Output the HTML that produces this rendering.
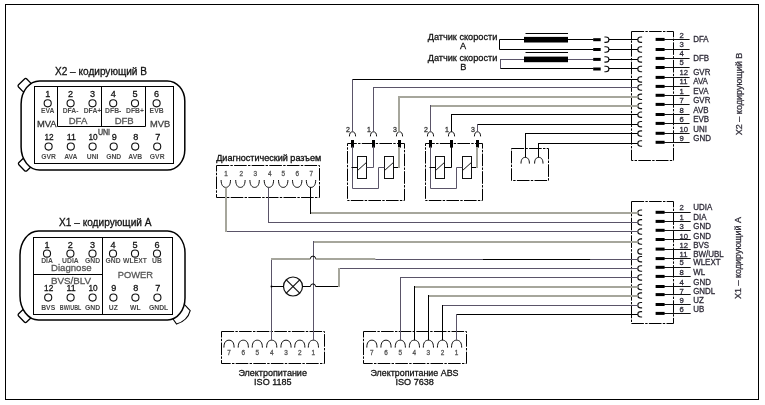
<!DOCTYPE html>
<html lang="ru">
<head>
<meta charset="utf-8">
<title>Схема подключения ABS</title>
<style>
html,body{margin:0;padding:0;background:#fff;}
body{width:765px;height:405px;overflow:hidden;}
svg{display:block;font-family:"Liberation Sans",sans-serif;will-change:transform;}
</style>
</head>
<body>
<svg width="765" height="405" viewBox="0 0 765 405">
<rect x="0" y="0" width="765" height="405" fill="#fff"/>
<rect x="5.5" y="4.5" width="753.0" height="395.0" fill="none" stroke="#000" stroke-width="1" />
<rect x="-5.75" y="-4.5" width="11.5" height="9" rx="1.6" fill="#fff" stroke="#000" stroke-width="1.3" transform="translate(24.65,85.05) rotate(-44)"/>
<rect x="-5.75" y="-4.5" width="11.5" height="9" rx="1.6" fill="#fff" stroke="#000" stroke-width="1.3" transform="translate(25.0,164.6) rotate(46)"/>
<path d="M39.6,80.9 H167.3 A17.5,20 0 0 1 184.8,100.9 V150.1 A17.5,20 0 0 1 167.3,170.1 H39.6 A18.5,23 0 0 1 21.1,147.1 V103.9 A18.5,23 0 0 1 39.6,80.9 Z" fill="#fff" stroke="#000" stroke-width="1.5" />
<rect x="34.5" y="86.5" width="139.0" height="77.0" fill="none" stroke="#000" stroke-width="1" />
<polyline points="57.5,86.5 57.5,126.5 145.5,126.5 145.5,86.5" fill="none" stroke="#000" stroke-width="1" />
<line x1="101.5" y1="86.6" x2="101.5" y2="126.4" stroke="#000" stroke-width="1" />
<text x="101" y="75.3" font-size="10" text-anchor="middle" textLength="92" lengthAdjust="spacingAndGlyphs" fill="#111" stroke="#111" stroke-width="0.28" >X2 – кодирующий B</text>
<text x="47.7" y="97.3" font-size="9.1" text-anchor="middle" fill="#111" stroke="#111" stroke-width="0.28" >1</text>
<circle cx="47.7" cy="103.3" r="3.55" fill="none" stroke="#111" stroke-width="1.1"/>
<text x="47.7" y="112.6" font-size="6.8" text-anchor="middle" font-weight="bold" fill="#4a4a4a" stroke="#4a4a4a" stroke-width="0" >EVA</text>
<text x="70.6" y="97.3" font-size="9.1" text-anchor="middle" fill="#111" stroke="#111" stroke-width="0.28" >2</text>
<circle cx="70.6" cy="103.3" r="3.55" fill="none" stroke="#111" stroke-width="1.1"/>
<text x="70.6" y="112.6" font-size="6.8" text-anchor="middle" font-weight="bold" fill="#4a4a4a" stroke="#4a4a4a" stroke-width="0" >DFA-</text>
<text x="92.5" y="97.3" font-size="9.1" text-anchor="middle" fill="#111" stroke="#111" stroke-width="0.28" >3</text>
<circle cx="92.5" cy="103.3" r="3.55" fill="none" stroke="#111" stroke-width="1.1"/>
<text x="92.5" y="112.6" font-size="6.8" text-anchor="middle" font-weight="bold" fill="#4a4a4a" stroke="#4a4a4a" stroke-width="0" >DFA+</text>
<text x="113.2" y="97.3" font-size="9.1" text-anchor="middle" fill="#111" stroke="#111" stroke-width="0.28" >4</text>
<circle cx="113.2" cy="103.3" r="3.55" fill="none" stroke="#111" stroke-width="1.1"/>
<text x="113.2" y="112.6" font-size="6.8" text-anchor="middle" font-weight="bold" fill="#4a4a4a" stroke="#4a4a4a" stroke-width="0" >DFB-</text>
<text x="135" y="97.3" font-size="9.1" text-anchor="middle" fill="#111" stroke="#111" stroke-width="0.28" >5</text>
<circle cx="135" cy="103.3" r="3.55" fill="none" stroke="#111" stroke-width="1.1"/>
<text x="135" y="112.6" font-size="6.8" text-anchor="middle" font-weight="bold" fill="#4a4a4a" stroke="#4a4a4a" stroke-width="0" >DFB+</text>
<text x="156.6" y="97.3" font-size="9.1" text-anchor="middle" fill="#111" stroke="#111" stroke-width="0.28" >6</text>
<circle cx="156.6" cy="103.3" r="3.55" fill="none" stroke="#111" stroke-width="1.1"/>
<text x="156.6" y="112.6" font-size="6.8" text-anchor="middle" font-weight="bold" fill="#4a4a4a" stroke="#4a4a4a" stroke-width="0" >EVB</text>
<text x="46.8" y="127.1" font-size="9.4" text-anchor="middle" textLength="19.6" lengthAdjust="spacingAndGlyphs" fill="#333" stroke="#333" stroke-width="0.28" >MVA</text>
<text x="78" y="124.1" font-size="9.6" text-anchor="middle" textLength="18.6" lengthAdjust="spacingAndGlyphs" fill="#555" stroke="#555" stroke-width="0.28" >DFA</text>
<text x="124.2" y="124.1" font-size="9.6" text-anchor="middle" textLength="19.1" lengthAdjust="spacingAndGlyphs" fill="#555" stroke="#555" stroke-width="0.28" >DFB</text>
<text x="160.2" y="127.1" font-size="9.4" text-anchor="middle" textLength="20.2" lengthAdjust="spacingAndGlyphs" fill="#444" stroke="#444" stroke-width="0.28" >MVB</text>
<text x="104" y="134.8" font-size="8.6" text-anchor="middle" textLength="12.2" lengthAdjust="spacingAndGlyphs" fill="#444" stroke="#444" stroke-width="0.28" style="stroke-width:0.4">UNI</text>
<text x="49.1" y="140.4" font-size="9.1" text-anchor="middle" textLength="9.2" lengthAdjust="spacingAndGlyphs" fill="#111" stroke="#111" stroke-width="0.28" >12</text>
<circle cx="48.6" cy="146.6" r="3.55" fill="none" stroke="#111" stroke-width="1.1"/>
<text x="48.6" y="158.7" font-size="6.8" text-anchor="middle" font-weight="bold" fill="#4a4a4a" stroke="#4a4a4a" stroke-width="0" >GVR</text>
<text x="71.3" y="140.4" font-size="9.1" text-anchor="middle" textLength="9.2" lengthAdjust="spacingAndGlyphs" fill="#111" stroke="#111" stroke-width="0.28" >11</text>
<circle cx="70.8" cy="146.6" r="3.55" fill="none" stroke="#111" stroke-width="1.1"/>
<text x="70.8" y="158.7" font-size="6.8" text-anchor="middle" font-weight="bold" fill="#4a4a4a" stroke="#4a4a4a" stroke-width="0" >AVA</text>
<text x="93.1" y="140.4" font-size="9.1" text-anchor="middle" textLength="9.2" lengthAdjust="spacingAndGlyphs" fill="#111" stroke="#111" stroke-width="0.28" >10</text>
<circle cx="92.6" cy="146.6" r="3.55" fill="none" stroke="#111" stroke-width="1.1"/>
<text x="92.6" y="158.7" font-size="6.8" text-anchor="middle" font-weight="bold" fill="#4a4a4a" stroke="#4a4a4a" stroke-width="0" >UNI</text>
<text x="114.2" y="140.4" font-size="9.1" text-anchor="middle" fill="#111" stroke="#111" stroke-width="0.28" >9</text>
<circle cx="113.7" cy="146.6" r="3.55" fill="none" stroke="#111" stroke-width="1.1"/>
<text x="113.7" y="158.7" font-size="6.8" text-anchor="middle" font-weight="bold" fill="#4a4a4a" stroke="#4a4a4a" stroke-width="0" >GND</text>
<text x="135.7" y="140.4" font-size="9.1" text-anchor="middle" fill="#111" stroke="#111" stroke-width="0.28" >8</text>
<circle cx="135.2" cy="146.6" r="3.55" fill="none" stroke="#111" stroke-width="1.1"/>
<text x="135.2" y="158.7" font-size="6.8" text-anchor="middle" font-weight="bold" fill="#4a4a4a" stroke="#4a4a4a" stroke-width="0" >AVB</text>
<text x="157.7" y="140.4" font-size="9.1" text-anchor="middle" fill="#111" stroke="#111" stroke-width="0.28" >7</text>
<circle cx="157.2" cy="146.6" r="3.55" fill="none" stroke="#111" stroke-width="1.1"/>
<text x="157.2" y="158.7" font-size="6.8" text-anchor="middle" font-weight="bold" fill="#4a4a4a" stroke="#4a4a4a" stroke-width="0" >GVR</text>
<rect x="-5.75" y="-4.5" width="11.5" height="9" rx="1.6" fill="#fff" stroke="#000" stroke-width="1.3" transform="translate(24.7,315.9) rotate(46)"/>
<path d="M184.3,304.3 L190.2,310.6 Q187.5,320.8 176.6,324 L172.8,318.8" fill="#fff" stroke="#000" stroke-width="1.1" />
<path d="M38.5,230.9 H167.5 A17.5,22 0 0 1 185.0,252.9 V298.0 A17.5,22 0 0 1 167.5,320.0 H38.5 A18.5,24 0 0 1 20.0,296.0 V254.9 A18.5,24 0 0 1 38.5,230.9 Z" fill="#fff" stroke="#000" stroke-width="1.5" />
<rect x="33.5" y="237.5" width="139.0" height="77.0" fill="none" stroke="#000" stroke-width="1" />
<line x1="102.5" y1="237.7" x2="102.5" y2="314.4" stroke="#000" stroke-width="1" />
<line x1="33.6" y1="274.5" x2="102.5" y2="274.5" stroke="#000" stroke-width="1" />
<text x="105.3" y="225.9" font-size="10" text-anchor="middle" textLength="92.5" lengthAdjust="spacingAndGlyphs" fill="#111" stroke="#111" stroke-width="0.28" >X1 – кодирующий A</text>
<text x="47" y="248.0" font-size="9.1" text-anchor="middle" fill="#111" stroke="#111" stroke-width="0.28" >1</text>
<circle cx="47" cy="253.6" r="3.55" fill="none" stroke="#111" stroke-width="1.1"/>
<text x="47" y="263.1" font-size="6.8" text-anchor="middle" font-weight="bold" fill="#4a4a4a" stroke="#4a4a4a" stroke-width="0" >DIA</text>
<text x="70.4" y="248.0" font-size="9.1" text-anchor="middle" fill="#111" stroke="#111" stroke-width="0.28" >2</text>
<circle cx="70.4" cy="253.6" r="3.55" fill="none" stroke="#111" stroke-width="1.1"/>
<text x="70.4" y="263.1" font-size="6.8" text-anchor="middle" font-weight="bold" fill="#4a4a4a" stroke="#4a4a4a" stroke-width="0" >UDIA</text>
<text x="92.5" y="248.0" font-size="9.1" text-anchor="middle" fill="#111" stroke="#111" stroke-width="0.28" >3</text>
<circle cx="92.5" cy="253.6" r="3.55" fill="none" stroke="#111" stroke-width="1.1"/>
<text x="92.5" y="263.1" font-size="6.8" text-anchor="middle" font-weight="bold" fill="#4a4a4a" stroke="#4a4a4a" stroke-width="0" >GND</text>
<text x="113" y="248.0" font-size="9.1" text-anchor="middle" fill="#111" stroke="#111" stroke-width="0.28" >4</text>
<circle cx="113" cy="253.6" r="3.55" fill="none" stroke="#111" stroke-width="1.1"/>
<text x="113" y="263.1" font-size="6.8" text-anchor="middle" font-weight="bold" fill="#4a4a4a" stroke="#4a4a4a" stroke-width="0" >GND</text>
<text x="135" y="248.0" font-size="9.1" text-anchor="middle" fill="#111" stroke="#111" stroke-width="0.28" >5</text>
<circle cx="135" cy="253.6" r="3.55" fill="none" stroke="#111" stroke-width="1.1"/>
<text x="135" y="263.1" font-size="6.8" text-anchor="middle" font-weight="bold" fill="#4a4a4a" stroke="#4a4a4a" stroke-width="0" >WLEXT</text>
<text x="157" y="248.0" font-size="9.1" text-anchor="middle" fill="#111" stroke="#111" stroke-width="0.28" >6</text>
<circle cx="157" cy="253.6" r="3.55" fill="none" stroke="#111" stroke-width="1.1"/>
<text x="157" y="263.1" font-size="6.8" text-anchor="middle" font-weight="bold" fill="#4a4a4a" stroke="#4a4a4a" stroke-width="0" >UB</text>
<text x="71.3" y="271.1" font-size="9.6" text-anchor="middle" textLength="40.6" lengthAdjust="spacingAndGlyphs" fill="#555" stroke="#555" stroke-width="0.28" >Diagnose</text>
<text x="71" y="283.5" font-size="9.7" text-anchor="middle" textLength="40.1" lengthAdjust="spacingAndGlyphs" fill="#555" stroke="#555" stroke-width="0.28" >BVS/BLV</text>
<text x="135.4" y="278.1" font-size="9.4" text-anchor="middle" textLength="35.2" lengthAdjust="spacingAndGlyphs" fill="#555" stroke="#555" stroke-width="0.28" >POWER</text>
<text x="48.7" y="291.4" font-size="9.1" text-anchor="middle" textLength="9.2" lengthAdjust="spacingAndGlyphs" fill="#111" stroke="#111" stroke-width="0.28" >12</text>
<circle cx="48.2" cy="297.6" r="3.55" fill="none" stroke="#111" stroke-width="1.1"/>
<text x="48.2" y="309.7" font-size="6.8" text-anchor="middle" font-weight="bold" fill="#444" stroke="#444" stroke-width="0" >BVS</text>
<text x="71.1" y="291.4" font-size="9.1" text-anchor="middle" textLength="9.2" lengthAdjust="spacingAndGlyphs" fill="#111" stroke="#111" stroke-width="0.28" >11</text>
<circle cx="70.6" cy="297.6" r="3.55" fill="none" stroke="#111" stroke-width="1.1"/>
<text x="70.6" y="309.7" font-size="6.8" text-anchor="middle" textLength="21.5" lengthAdjust="spacingAndGlyphs" font-weight="bold" fill="#444" stroke="#444" stroke-width="0" >BW/UBL</text>
<text x="93.1" y="291.4" font-size="9.1" text-anchor="middle" textLength="9.2" lengthAdjust="spacingAndGlyphs" fill="#111" stroke="#111" stroke-width="0.28" >10</text>
<circle cx="92.6" cy="297.6" r="3.55" fill="none" stroke="#111" stroke-width="1.1"/>
<text x="92.6" y="309.7" font-size="6.8" text-anchor="middle" font-weight="bold" fill="#444" stroke="#444" stroke-width="0" >GND</text>
<text x="113.9" y="291.4" font-size="9.1" text-anchor="middle" fill="#111" stroke="#111" stroke-width="0.28" >9</text>
<circle cx="113.4" cy="297.6" r="3.55" fill="none" stroke="#111" stroke-width="1.1"/>
<text x="113.4" y="309.7" font-size="6.8" text-anchor="middle" font-weight="bold" fill="#444" stroke="#444" stroke-width="0" >UZ</text>
<text x="135.9" y="291.4" font-size="9.1" text-anchor="middle" fill="#111" stroke="#111" stroke-width="0.28" >8</text>
<circle cx="135.4" cy="297.6" r="3.55" fill="none" stroke="#111" stroke-width="1.1"/>
<text x="135.4" y="309.7" font-size="6.8" text-anchor="middle" font-weight="bold" fill="#444" stroke="#444" stroke-width="0" >WL</text>
<text x="157.9" y="291.4" font-size="9.1" text-anchor="middle" fill="#111" stroke="#111" stroke-width="0.28" >7</text>
<circle cx="157.4" cy="297.6" r="3.55" fill="none" stroke="#111" stroke-width="1.1"/>
<text x="158.6" y="309.7" font-size="6.8" text-anchor="middle" font-weight="bold" fill="#444" stroke="#444" stroke-width="0" >GNDL</text>
<rect x="631.5" y="31.5" width="42.0" height="129.0" fill="none" stroke="#000" stroke-width="1" stroke-dasharray="12.6 1.3 2.4 1.3"/>
<path d="M642.0999999999999,37.0 H640.8 A3.0,2.7 0 0 0 640.8,42.400000000000006 H642.0999999999999" fill="none" stroke="#111" stroke-width="1.1" />
<rect x="655.6" y="37.9" width="9" height="3" fill="#000" stroke="none" stroke-width="0" />
<line x1="664" y1="39.5" x2="689.6" y2="39.5" stroke="#111" stroke-width="1" />
<text x="679.6" y="37.7" font-size="7.7" fill="#2e2b38" stroke="#2e2b38" stroke-width="0.28" >2</text>
<text x="693.2" y="41.8" font-size="8.3" textLength="15.5" lengthAdjust="spacingAndGlyphs" fill="#2e2b38" stroke="#2e2b38" stroke-width="0.28" >DFA</text>
<path d="M642.0999999999999,46.8 H640.8 A3.0,2.7 0 0 0 640.8,52.2 H642.0999999999999" fill="none" stroke="#111" stroke-width="1.1" />
<rect x="655.6" y="48.0" width="9" height="3" fill="#000" stroke="none" stroke-width="0" />
<line x1="664" y1="49.5" x2="689.6" y2="49.5" stroke="#111" stroke-width="1" />
<text x="679.6" y="46.6" font-size="7.7" fill="#2e2b38" stroke="#2e2b38" stroke-width="0.28" >3</text>
<path d="M642.0999999999999,56.699999999999996 H640.8 A3.0,2.7 0 0 0 640.8,62.1 H642.0999999999999" fill="none" stroke="#111" stroke-width="1.1" />
<rect x="655.6" y="56.9" width="9" height="3" fill="#000" stroke="none" stroke-width="0" />
<line x1="664" y1="58.5" x2="689.6" y2="58.5" stroke="#111" stroke-width="1" />
<text x="679.6" y="55.8" font-size="7.7" fill="#2e2b38" stroke="#2e2b38" stroke-width="0.28" >4</text>
<text x="693.2" y="61.2" font-size="8.3" textLength="15.9" lengthAdjust="spacingAndGlyphs" fill="#2e2b38" stroke="#2e2b38" stroke-width="0.28" >DFB</text>
<path d="M642.0999999999999,66.3 H640.8 A3.0,2.7 0 0 0 640.8,71.7 H642.0999999999999" fill="none" stroke="#111" stroke-width="1.1" />
<rect x="655.6" y="66.0" width="9" height="3" fill="#000" stroke="none" stroke-width="0" />
<line x1="664" y1="67.5" x2="689.6" y2="67.5" stroke="#111" stroke-width="1" />
<text x="679.6" y="65.2" font-size="7.7" fill="#2e2b38" stroke="#2e2b38" stroke-width="0.28" >5</text>
<path d="M642.0999999999999,76.7 H640.8 A3.0,2.7 0 0 0 640.8,82.10000000000001 H642.0999999999999" fill="none" stroke="#111" stroke-width="1.1" />
<rect x="655.6" y="75.9" width="9" height="3" fill="#000" stroke="none" stroke-width="0" />
<line x1="664" y1="77.5" x2="689.6" y2="77.5" stroke="#111" stroke-width="1" />
<text x="679.6" y="74.7" font-size="7.7" fill="#2e2b38" stroke="#2e2b38" stroke-width="0.28" >12</text>
<text x="693.2" y="74.7" font-size="8.3" textLength="17.2" lengthAdjust="spacingAndGlyphs" fill="#2e2b38" stroke="#2e2b38" stroke-width="0.28" >GVR</text>
<path d="M642.0999999999999,84.8 H640.8 A3.0,2.7 0 0 0 640.8,90.2 H642.0999999999999" fill="none" stroke="#111" stroke-width="1.1" />
<rect x="655.6" y="84.9" width="9" height="3" fill="#000" stroke="none" stroke-width="0" />
<line x1="664" y1="86.5" x2="689.6" y2="86.5" stroke="#111" stroke-width="1" />
<text x="679.6" y="84.4" font-size="7.7" fill="#2e2b38" stroke="#2e2b38" stroke-width="0.28" >11</text>
<text x="693.2" y="84.4" font-size="8.3" textLength="14.7" lengthAdjust="spacingAndGlyphs" fill="#2e2b38" stroke="#2e2b38" stroke-width="0.28" >AVA</text>
<path d="M642.0999999999999,94.1 H640.8 A3.0,2.7 0 0 0 640.8,99.5 H642.0999999999999" fill="none" stroke="#111" stroke-width="1.1" />
<rect x="655.6" y="93.8" width="9" height="3" fill="#000" stroke="none" stroke-width="0" />
<line x1="664" y1="95.5" x2="689.6" y2="95.5" stroke="#111" stroke-width="1" />
<text x="679.6" y="93.6" font-size="7.7" fill="#2e2b38" stroke="#2e2b38" stroke-width="0.28" >1</text>
<text x="693.2" y="93.6" font-size="8.3" textLength="15.3" lengthAdjust="spacingAndGlyphs" fill="#2e2b38" stroke="#2e2b38" stroke-width="0.28" >EVA</text>
<path d="M642.0999999999999,103.2 H640.8 A3.0,2.7 0 0 0 640.8,108.60000000000001 H642.0999999999999" fill="none" stroke="#111" stroke-width="1.1" />
<rect x="655.6" y="102.9" width="9" height="3" fill="#000" stroke="none" stroke-width="0" />
<line x1="664" y1="104.5" x2="689.6" y2="104.5" stroke="#111" stroke-width="1" />
<text x="679.6" y="103.0" font-size="7.7" fill="#2e2b38" stroke="#2e2b38" stroke-width="0.28" >7</text>
<text x="693.2" y="103.0" font-size="8.3" textLength="17.2" lengthAdjust="spacingAndGlyphs" fill="#2e2b38" stroke="#2e2b38" stroke-width="0.28" >GVR</text>
<path d="M642.0999999999999,112.0 H640.8 A3.0,2.7 0 0 0 640.8,117.4 H642.0999999999999" fill="none" stroke="#111" stroke-width="1.1" />
<rect x="655.6" y="113.0" width="9" height="3" fill="#000" stroke="none" stroke-width="0" />
<line x1="664" y1="114.5" x2="689.6" y2="114.5" stroke="#111" stroke-width="1" />
<text x="679.6" y="112.5" font-size="7.7" fill="#2e2b38" stroke="#2e2b38" stroke-width="0.28" >8</text>
<text x="693.2" y="112.5" font-size="8.3" textLength="15.3" lengthAdjust="spacingAndGlyphs" fill="#2e2b38" stroke="#2e2b38" stroke-width="0.28" >AVB</text>
<path d="M642.0999999999999,121.5 H640.8 A3.0,2.7 0 0 0 640.8,126.9 H642.0999999999999" fill="none" stroke="#111" stroke-width="1.1" />
<rect x="655.6" y="121.9" width="9" height="3" fill="#000" stroke="none" stroke-width="0" />
<line x1="664" y1="123.5" x2="689.6" y2="123.5" stroke="#111" stroke-width="1" />
<text x="679.6" y="122.4" font-size="7.7" fill="#2e2b38" stroke="#2e2b38" stroke-width="0.28" >6</text>
<text x="693.2" y="122.4" font-size="8.3" textLength="15.9" lengthAdjust="spacingAndGlyphs" fill="#2e2b38" stroke="#2e2b38" stroke-width="0.28" >EVB</text>
<path d="M642.0999999999999,130.9 H640.8 A3.0,2.7 0 0 0 640.8,136.29999999999998 H642.0999999999999" fill="none" stroke="#111" stroke-width="1.1" />
<rect x="655.6" y="131.8" width="9" height="3" fill="#000" stroke="none" stroke-width="0" />
<line x1="664" y1="133.5" x2="689.6" y2="133.5" stroke="#111" stroke-width="1" />
<text x="679.6" y="131.6" font-size="7.7" fill="#2e2b38" stroke="#2e2b38" stroke-width="0.28" >10</text>
<text x="693.2" y="131.6" font-size="8.3" textLength="13.7" lengthAdjust="spacingAndGlyphs" fill="#2e2b38" stroke="#2e2b38" stroke-width="0.28" >UNI</text>
<path d="M642.0999999999999,140.8 H640.8 A3.0,2.7 0 0 0 640.8,146.2 H642.0999999999999" fill="none" stroke="#111" stroke-width="1.1" />
<rect x="655.6" y="140.8" width="9" height="3" fill="#000" stroke="none" stroke-width="0" />
<line x1="664" y1="142.5" x2="689.6" y2="142.5" stroke="#111" stroke-width="1" />
<text x="679.6" y="140.5" font-size="7.7" fill="#2e2b38" stroke="#2e2b38" stroke-width="0.28" >9</text>
<text x="693.2" y="140.5" font-size="8.3" textLength="17.7" lengthAdjust="spacingAndGlyphs" fill="#2e2b38" stroke="#2e2b38" stroke-width="0.28" >GND</text>
<rect x="631.5" y="201.5" width="42.0" height="122.0" fill="none" stroke="#000" stroke-width="1" stroke-dasharray="12.6 1.3 2.4 1.3"/>
<path d="M642.0999999999999,210.0 H640.8 A3.0,2.7 0 0 0 640.8,215.39999999999998 H642.0999999999999" fill="none" stroke="#111" stroke-width="1.1" />
<rect x="655.6" y="210.8" width="9" height="3" fill="#000" stroke="none" stroke-width="0" />
<line x1="664" y1="212.5" x2="690.7" y2="212.5" stroke="#111" stroke-width="1" />
<text x="679.6" y="210.4" font-size="7.7" fill="#2e2b38" stroke="#2e2b38" stroke-width="0.28" >2</text>
<text x="693.2" y="210.4" font-size="8.3" textLength="19.0" lengthAdjust="spacingAndGlyphs" fill="#2e2b38" stroke="#2e2b38" stroke-width="0.28" >UDIA</text>
<path d="M642.0999999999999,219.60000000000002 H640.8 A3.0,2.7 0 0 0 640.8,225.0 H642.0999999999999" fill="none" stroke="#111" stroke-width="1.1" />
<rect x="655.6" y="219.9" width="9" height="3" fill="#000" stroke="none" stroke-width="0" />
<line x1="664" y1="221.5" x2="690.7" y2="221.5" stroke="#111" stroke-width="1" />
<text x="679.6" y="219.9" font-size="7.7" fill="#2e2b38" stroke="#2e2b38" stroke-width="0.28" >1</text>
<text x="693.2" y="219.9" font-size="8.3" textLength="13.3" lengthAdjust="spacingAndGlyphs" fill="#2e2b38" stroke="#2e2b38" stroke-width="0.28" >DIA</text>
<path d="M642.0999999999999,228.9 H640.8 A3.0,2.7 0 0 0 640.8,234.29999999999998 H642.0999999999999" fill="none" stroke="#111" stroke-width="1.1" />
<rect x="655.6" y="228.8" width="9" height="3" fill="#000" stroke="none" stroke-width="0" />
<line x1="664" y1="230.5" x2="690.7" y2="230.5" stroke="#111" stroke-width="1" />
<text x="679.6" y="228.8" font-size="7.7" fill="#2e2b38" stroke="#2e2b38" stroke-width="0.28" >3</text>
<text x="693.2" y="228.8" font-size="8.3" textLength="17.7" lengthAdjust="spacingAndGlyphs" fill="#2e2b38" stroke="#2e2b38" stroke-width="0.28" >GND</text>
<path d="M642.0999999999999,238.9 H640.8 A3.0,2.7 0 0 0 640.8,244.29999999999998 H642.0999999999999" fill="none" stroke="#111" stroke-width="1.1" />
<rect x="655.6" y="238.0" width="9" height="3" fill="#000" stroke="none" stroke-width="0" />
<line x1="664" y1="239.5" x2="690.7" y2="239.5" stroke="#111" stroke-width="1" />
<text x="679.6" y="238.5" font-size="7.7" fill="#2e2b38" stroke="#2e2b38" stroke-width="0.28" >10</text>
<text x="693.2" y="238.5" font-size="8.3" textLength="17.7" lengthAdjust="spacingAndGlyphs" fill="#2e2b38" stroke="#2e2b38" stroke-width="0.28" >GND</text>
<path d="M642.0999999999999,248.70000000000002 H640.8 A3.0,2.7 0 0 0 640.8,254.1 H642.0999999999999" fill="none" stroke="#111" stroke-width="1.1" />
<rect x="655.6" y="247.6" width="9" height="3" fill="#000" stroke="none" stroke-width="0" />
<line x1="664" y1="249.5" x2="690.7" y2="249.5" stroke="#111" stroke-width="1" />
<text x="679.6" y="247.7" font-size="7.7" fill="#2e2b38" stroke="#2e2b38" stroke-width="0.28" >12</text>
<text x="693.2" y="247.7" font-size="8.3" textLength="15.9" lengthAdjust="spacingAndGlyphs" fill="#2e2b38" stroke="#2e2b38" stroke-width="0.28" >BVS</text>
<path d="M642.0999999999999,256.5 H640.8 A3.0,2.7 0 0 0 640.8,261.9 H642.0999999999999" fill="none" stroke="#111" stroke-width="1.1" />
<rect x="655.6" y="257.1" width="9" height="3" fill="#000" stroke="none" stroke-width="0" />
<line x1="664" y1="258.5" x2="690.7" y2="258.5" stroke="#111" stroke-width="1" />
<text x="679.6" y="256.6" font-size="7.7" fill="#2e2b38" stroke="#2e2b38" stroke-width="0.28" >11</text>
<text x="693.2" y="256.6" font-size="8.3" textLength="30.5" lengthAdjust="spacingAndGlyphs" fill="#2e2b38" stroke="#2e2b38" stroke-width="0.28" >BW/UBL</text>
<path d="M642.0999999999999,265.8 H640.8 A3.0,2.7 0 0 0 640.8,271.2 H642.0999999999999" fill="none" stroke="#111" stroke-width="1.1" />
<rect x="655.6" y="265.8" width="9" height="3" fill="#000" stroke="none" stroke-width="0" />
<line x1="664" y1="267.5" x2="690.7" y2="267.5" stroke="#111" stroke-width="1" />
<text x="679.6" y="265.4" font-size="7.7" fill="#2e2b38" stroke="#2e2b38" stroke-width="0.28" >5</text>
<text x="693.2" y="265.4" font-size="8.3" textLength="27.4" lengthAdjust="spacingAndGlyphs" fill="#2e2b38" stroke="#2e2b38" stroke-width="0.28" >WLEXT</text>
<path d="M642.0999999999999,274.7 H640.8 A3.0,2.7 0 0 0 640.8,280.09999999999997 H642.0999999999999" fill="none" stroke="#111" stroke-width="1.1" />
<rect x="655.6" y="274.9" width="9" height="3" fill="#000" stroke="none" stroke-width="0" />
<line x1="664" y1="276.5" x2="690.7" y2="276.5" stroke="#111" stroke-width="1" />
<text x="679.6" y="274.5" font-size="7.7" fill="#2e2b38" stroke="#2e2b38" stroke-width="0.28" >8</text>
<text x="693.2" y="274.5" font-size="8.3" textLength="11.9" lengthAdjust="spacingAndGlyphs" fill="#2e2b38" stroke="#2e2b38" stroke-width="0.28" >WL</text>
<path d="M642.0999999999999,284.3 H640.8 A3.0,2.7 0 0 0 640.8,289.7 H642.0999999999999" fill="none" stroke="#111" stroke-width="1.1" />
<rect x="655.6" y="285.0" width="9" height="3" fill="#000" stroke="none" stroke-width="0" />
<line x1="664" y1="286.5" x2="690.7" y2="286.5" stroke="#111" stroke-width="1" />
<text x="679.6" y="284.6" font-size="7.7" fill="#2e2b38" stroke="#2e2b38" stroke-width="0.28" >4</text>
<text x="693.2" y="284.6" font-size="8.3" textLength="17.7" lengthAdjust="spacingAndGlyphs" fill="#2e2b38" stroke="#2e2b38" stroke-width="0.28" >GND</text>
<path d="M642.0999999999999,292.90000000000003 H640.8 A3.0,2.7 0 0 0 640.8,298.3 H642.0999999999999" fill="none" stroke="#111" stroke-width="1.1" />
<rect x="655.6" y="293.1" width="9" height="3" fill="#000" stroke="none" stroke-width="0" />
<line x1="664" y1="294.5" x2="690.7" y2="294.5" stroke="#111" stroke-width="1" />
<text x="679.6" y="293.6" font-size="7.7" fill="#2e2b38" stroke="#2e2b38" stroke-width="0.28" >7</text>
<text x="693.2" y="293.6" font-size="8.3" textLength="22.1" lengthAdjust="spacingAndGlyphs" fill="#2e2b38" stroke="#2e2b38" stroke-width="0.28" >GNDL</text>
<path d="M642.0999999999999,302.5 H640.8 A3.0,2.7 0 0 0 640.8,307.9 H642.0999999999999" fill="none" stroke="#111" stroke-width="1.1" />
<rect x="655.6" y="303.0" width="9" height="3" fill="#000" stroke="none" stroke-width="0" />
<line x1="664" y1="304.5" x2="690.7" y2="304.5" stroke="#111" stroke-width="1" />
<text x="679.6" y="302.5" font-size="7.7" fill="#2e2b38" stroke="#2e2b38" stroke-width="0.28" >9</text>
<text x="693.2" y="302.5" font-size="8.3" textLength="10.6" lengthAdjust="spacingAndGlyphs" fill="#2e2b38" stroke="#2e2b38" stroke-width="0.28" >UZ</text>
<path d="M642.0999999999999,311.6 H640.8 A3.0,2.7 0 0 0 640.8,317.0 H642.0999999999999" fill="none" stroke="#111" stroke-width="1.1" />
<rect x="655.6" y="311.9" width="9" height="3" fill="#000" stroke="none" stroke-width="0" />
<line x1="664" y1="313.5" x2="690.7" y2="313.5" stroke="#111" stroke-width="1" />
<text x="679.6" y="311.6" font-size="7.7" fill="#2e2b38" stroke="#2e2b38" stroke-width="0.28" >6</text>
<text x="693.2" y="311.6" font-size="8.3" textLength="11.0" lengthAdjust="spacingAndGlyphs" fill="#2e2b38" stroke="#2e2b38" stroke-width="0.28" >UB</text>
<text x="0" y="0" font-size="8.6" text-anchor="middle" textLength="82.5" lengthAdjust="spacingAndGlyphs" fill="#33303c" stroke="#33303c" stroke-width="0.28" transform="translate(741.9,94) rotate(-90)">X2 – кодирующий B</text>
<text x="0" y="0" font-size="8.6" text-anchor="middle" textLength="82" lengthAdjust="spacingAndGlyphs" fill="#33303c" stroke="#33303c" stroke-width="0.28" transform="translate(741.2,258) rotate(-90)">X1 – кодирующий A</text>
<text x="462.5" y="40.4" font-size="9.2" text-anchor="middle" textLength="69.6" lengthAdjust="spacingAndGlyphs" fill="#111" stroke="#111" stroke-width="0.28" >Датчик скорости</text>
<text x="463" y="48.7" font-size="9.2" text-anchor="middle" fill="#111" stroke="#111" stroke-width="0.28" >A</text>
<text x="462.5" y="61.1" font-size="9.2" text-anchor="middle" textLength="69.6" lengthAdjust="spacingAndGlyphs" fill="#111" stroke="#111" stroke-width="0.28" >Датчик скорости</text>
<text x="463.2" y="70.4" font-size="9.2" text-anchor="middle" fill="#111" stroke="#111" stroke-width="0.28" >B</text>
<polyline points="524.5,39.5 499.5,39.5 499.5,49.5 593.5,49.5" fill="none" stroke="#000" stroke-width="1" />
<line x1="568" y1="39.5" x2="593.5" y2="39.5" stroke="#000" stroke-width="1" />
<rect x="524" y="36.900000000000006" width="44" height="5.6" fill="#000" stroke="none" stroke-width="0" />
<line x1="525.5" y1="33.5" x2="568" y2="33.5" stroke="#000" stroke-width="1" />
<rect x="593.2" y="38.2" width="7.5" height="3" fill="#000" stroke="none" stroke-width="0" />
<path d="M604.4,37.0 H605.9 A3.0,2.7 0 0 1 605.9,42.400000000000006 H604.4" fill="none" stroke="#111" stroke-width="1.1" />
<line x1="608.9" y1="39.5" x2="637.8" y2="39.5" stroke="#000" stroke-width="1" />
<rect x="593.2" y="48.0" width="7.5" height="3" fill="#000" stroke="none" stroke-width="0" />
<path d="M604.4,46.8 H605.9 A3.0,2.7 0 0 1 605.9,52.2 H604.4" fill="none" stroke="#111" stroke-width="1.1" />
<line x1="608.9" y1="49.5" x2="637.8" y2="49.5" stroke="#000" stroke-width="1" />
<polyline points="524.5,59.5 500.5,59.5 500.5,68.5 593.5,68.5" fill="none" stroke="#000" stroke-width="1" />
<polyline points="524.5,59.5 500.5,59.5 500.5,68.5" fill="none" stroke="#5a5468" stroke-width="1" />
<line x1="568" y1="59.5" x2="593.5" y2="59.5" stroke="#5a5468" stroke-width="1" />
<rect x="524" y="56.6" width="44" height="5.6" fill="#000" stroke="none" stroke-width="0" />
<line x1="525.5" y1="52.5" x2="568" y2="52.5" stroke="#000" stroke-width="1" />
<rect x="593.2" y="57.9" width="7.5" height="3" fill="#000" stroke="none" stroke-width="0" />
<path d="M604.4,56.699999999999996 H605.9 A3.0,2.7 0 0 1 605.9,62.1 H604.4" fill="none" stroke="#111" stroke-width="1.1" />
<line x1="608.9" y1="59.5" x2="637.8" y2="59.5" stroke="#000" stroke-width="1" />
<rect x="593.2" y="67.5" width="7.5" height="3" fill="#000" stroke="none" stroke-width="0" />
<path d="M604.4,66.3 H605.9 A3.0,2.7 0 0 1 605.9,71.7 H604.4" fill="none" stroke="#111" stroke-width="1.1" />
<line x1="608.9" y1="68.5" x2="637.8" y2="68.5" stroke="#000" stroke-width="1" />
<rect x="347.5" y="143.5" width="57.0" height="57.0" fill="none" stroke="#000" stroke-width="1" stroke-dasharray="12.6 1.3 2.4 1.3" stroke-dashoffset="3.3"/>
<rect x="351.0" y="140" width="3" height="7.6" fill="#000" stroke="none" stroke-width="0" />
<path d="M349.40000000000003,136.4 C349.40000000000003,132.95000000000002 350.88,131.8 352.5,131.8 C354.12,131.8 355.59999999999997,132.95000000000002 355.59999999999997,136.4" fill="none" stroke="#111" stroke-width="1" />
<text x="349.9" y="132.4" font-size="7" text-anchor="end" fill="#333" stroke="#333" stroke-width="0.28" >2</text>
<rect x="372.0" y="140" width="3" height="7.6" fill="#000" stroke="none" stroke-width="0" />
<path d="M370.40000000000003,136.4 C370.40000000000003,132.95000000000002 371.88,131.8 373.5,131.8 C375.12,131.8 376.59999999999997,132.95000000000002 376.59999999999997,136.4" fill="none" stroke="#111" stroke-width="1" />
<text x="370.9" y="132.4" font-size="7" text-anchor="end" fill="#333" stroke="#333" stroke-width="0.28" >1</text>
<rect x="398.0" y="140" width="3" height="7.6" fill="#000" stroke="none" stroke-width="0" />
<path d="M396.40000000000003,136.4 C396.40000000000003,132.95000000000002 397.88,131.8 399.5,131.8 C401.12,131.8 402.59999999999997,132.95000000000002 402.59999999999997,136.4" fill="none" stroke="#111" stroke-width="1" />
<text x="396.9" y="132.4" font-size="7" text-anchor="end" fill="#333" stroke="#333" stroke-width="0.28" >3</text>
<rect x="357.5" y="156.5" width="9.0" height="22.0" fill="none" stroke="#111" stroke-width="1" />
<line x1="358.1" y1="170" x2="366.5" y2="162.4" stroke="#111" stroke-width="1" />
<rect x="384.5" y="156.5" width="9.0" height="22.0" fill="none" stroke="#111" stroke-width="1" />
<line x1="385.1" y1="170" x2="393.5" y2="162.4" stroke="#111" stroke-width="1" />
<polyline points="352.5,146.5 352.5,188.5 378.5,188.5 378.5,167.5 384.5,167.5" fill="none" stroke="#5a5468" stroke-width="1" />
<line x1="351.5" y1="167.5" x2="357.5" y2="167.5" stroke="#000" stroke-width="1" />
<polyline points="366.5,167.5 373.5,167.5 373.5,146.5" fill="none" stroke="#5a5468" stroke-width="1" />
<polyline points="393.5,167.5 398.5,167.5" fill="none" stroke="#000" stroke-width="1" />
<line x1="399.0" y1="167.9" x2="399.0" y2="147" stroke="#a6a69c" stroke-width="2" />
<rect x="425.5" y="143.5" width="57.0" height="57.0" fill="none" stroke="#000" stroke-width="1" stroke-dasharray="12.6 1.3 2.4 1.3" stroke-dashoffset="3.3"/>
<rect x="429.0" y="140" width="3" height="7.6" fill="#000" stroke="none" stroke-width="0" />
<path d="M427.40000000000003,136.4 C427.40000000000003,132.95000000000002 428.88,131.8 430.5,131.8 C432.12,131.8 433.59999999999997,132.95000000000002 433.59999999999997,136.4" fill="none" stroke="#111" stroke-width="1" />
<text x="427.9" y="132.4" font-size="7" text-anchor="end" fill="#333" stroke="#333" stroke-width="0.28" >2</text>
<rect x="450.0" y="140" width="3" height="7.6" fill="#000" stroke="none" stroke-width="0" />
<path d="M448.40000000000003,136.4 C448.40000000000003,132.95000000000002 449.88,131.8 451.5,131.8 C453.12,131.8 454.59999999999997,132.95000000000002 454.59999999999997,136.4" fill="none" stroke="#111" stroke-width="1" />
<text x="448.9" y="132.4" font-size="7" text-anchor="end" fill="#333" stroke="#333" stroke-width="0.28" >1</text>
<rect x="476.0" y="140" width="3" height="7.6" fill="#000" stroke="none" stroke-width="0" />
<path d="M474.40000000000003,136.4 C474.40000000000003,132.95000000000002 475.88,131.8 477.5,131.8 C479.12,131.8 480.59999999999997,132.95000000000002 480.59999999999997,136.4" fill="none" stroke="#111" stroke-width="1" />
<text x="474.9" y="132.4" font-size="7" text-anchor="end" fill="#333" stroke="#333" stroke-width="0.28" >3</text>
<rect x="435.5" y="156.5" width="9.0" height="22.0" fill="none" stroke="#111" stroke-width="1" />
<line x1="436.1" y1="170" x2="444.5" y2="162.4" stroke="#111" stroke-width="1" />
<rect x="462.5" y="156.5" width="9.0" height="22.0" fill="none" stroke="#111" stroke-width="1" />
<line x1="463.1" y1="170" x2="471.5" y2="162.4" stroke="#111" stroke-width="1" />
<polyline points="430.5,146.5 430.5,188.5 456.5,188.5 456.5,167.5 462.5,167.5" fill="none" stroke="#5a5468" stroke-width="1" />
<line x1="429.5" y1="167.5" x2="435.5" y2="167.5" stroke="#000" stroke-width="1" />
<polyline points="444.5,167.5 451.5,167.5 451.5,146.5" fill="none" stroke="#000" stroke-width="1" />
<polyline points="471.5,167.5 476.5,167.5" fill="none" stroke="#000" stroke-width="1" />
<line x1="477.0" y1="167.9" x2="477.0" y2="147" stroke="#a6a69c" stroke-width="2" />
<line x1="352.0" y1="79.5" x2="637.8" y2="79.5" stroke="#000" stroke-width="1"/>
<line x1="352.5" y1="131.8" x2="352.5" y2="79.0" stroke="#5a5468" stroke-width="1"/>
<line x1="373.0" y1="87.5" x2="637.8" y2="87.5" stroke="#5a5468" stroke-width="1"/>
<line x1="373.5" y1="131.8" x2="373.5" y2="87.0" stroke="#5a5468" stroke-width="1"/>
<line x1="398.0" y1="97.0" x2="637.8" y2="97.0" stroke="#a6a69c" stroke-width="2"/>
<line x1="399.0" y1="131.8" x2="399.0" y2="96.0" stroke="#a6a69c" stroke-width="2"/>
<line x1="430.0" y1="106.0" x2="637.8" y2="106.0" stroke="#a6a69c" stroke-width="2"/>
<line x1="430.5" y1="131.8" x2="430.5" y2="105.0" stroke="#5a5468" stroke-width="1"/>
<line x1="451.0" y1="114.5" x2="637.8" y2="114.5" stroke="#000" stroke-width="1"/>
<line x1="451.5" y1="131.8" x2="451.5" y2="114.0" stroke="#000" stroke-width="1"/>
<line x1="477.0" y1="124.5" x2="637.8" y2="124.5" stroke="#000" stroke-width="1"/>
<line x1="477.5" y1="131.8" x2="477.5" y2="124.0" stroke="#5a5468" stroke-width="1"/>
<rect x="511.5" y="148.5" width="37.0" height="32.0" fill="none" stroke="#000" stroke-width="1" stroke-dasharray="12.6 1.3 2.4 1.3"/>
<line x1="525.0" y1="133.5" x2="637.8" y2="133.5" stroke="#000" stroke-width="1"/>
<line x1="525.5" y1="157.4" x2="525.5" y2="133.0" stroke="#000" stroke-width="1"/>
<path d="M521.0000000000001,163.6 C521.0000000000001,158.95000000000002 522.9200000000001,157.4 525.2,157.4 C527.48,157.4 529.4,158.95000000000002 529.4,163.6" fill="none" stroke="#111" stroke-width="1" />
<line x1="538.0" y1="143.5" x2="637.8" y2="143.5" stroke="#000" stroke-width="1"/>
<line x1="538.5" y1="157.4" x2="538.5" y2="143.0" stroke="#000" stroke-width="1"/>
<path d="M534.6,163.6 C534.6,158.95000000000002 536.52,157.4 538.8,157.4 C541.0799999999999,157.4 542.9999999999999,158.95000000000002 542.9999999999999,163.6" fill="none" stroke="#111" stroke-width="1" />
<text x="268.7" y="160.7" font-size="9.1" text-anchor="middle" textLength="105" lengthAdjust="spacingAndGlyphs" fill="#111" stroke="#111" stroke-width="0.28" style="stroke-width:0.32">Диагностический разъем</text>
<rect x="216.5" y="165.5" width="103.0" height="32.0" fill="none" stroke="#000" stroke-width="1" stroke-dasharray="12.6 1.3 2.4 1.3"/>
<text x="226.0" y="175.8" font-size="6.4" text-anchor="middle" fill="#555" stroke="#555" stroke-width="0.28" >1</text>
<path d="M221.10000000000002,180.0 C221.10000000000002,185.18 223.215,187.4 225.8,187.4 C228.38500000000002,187.4 230.5,185.18 230.5,180.0" fill="none" stroke="#111" stroke-width="1" />
<text x="241.20000000000002" y="175.8" font-size="6.4" text-anchor="middle" fill="#555" stroke="#555" stroke-width="0.28" >2</text>
<path d="M235.70000000000002,180.0 C235.70000000000002,185.18 237.815,187.4 240.4,187.4 C242.985,187.4 245.1,185.18 245.1,180.0" fill="none" stroke="#111" stroke-width="1" />
<text x="255.4" y="175.8" font-size="6.4" text-anchor="middle" fill="#555" stroke="#555" stroke-width="0.28" >3</text>
<path d="M249.9,180.0 C249.9,185.18 252.015,187.4 254.6,187.4 C257.185,187.4 259.3,185.18 259.3,180.0" fill="none" stroke="#111" stroke-width="1" />
<text x="269.7" y="175.8" font-size="6.4" text-anchor="middle" fill="#555" stroke="#555" stroke-width="0.28" >4</text>
<path d="M264.2,180.0 C264.2,185.18 266.315,187.4 268.9,187.4 C271.48499999999996,187.4 273.59999999999997,185.18 273.59999999999997,180.0" fill="none" stroke="#111" stroke-width="1" />
<text x="283.4" y="175.8" font-size="6.4" text-anchor="middle" fill="#555" stroke="#555" stroke-width="0.28" >5</text>
<path d="M278.5,180.0 C278.5,185.18 280.615,187.4 283.2,187.4 C285.78499999999997,187.4 287.9,185.18 287.9,180.0" fill="none" stroke="#111" stroke-width="1" />
<text x="297.4" y="175.8" font-size="6.4" text-anchor="middle" fill="#555" stroke="#555" stroke-width="0.28" >6</text>
<path d="M292.5,180.0 C292.5,185.18 294.615,187.4 297.2,187.4 C299.78499999999997,187.4 301.9,185.18 301.9,180.0" fill="none" stroke="#111" stroke-width="1" />
<text x="311.2" y="175.8" font-size="6.4" text-anchor="middle" fill="#555" stroke="#555" stroke-width="0.28" >7</text>
<path d="M306.3,180.0 C306.3,185.18 308.415,187.4 311.0,187.4 C313.585,187.4 315.7,185.18 315.7,180.0" fill="none" stroke="#111" stroke-width="1" />
<line x1="225.0" y1="231.5" x2="637.8" y2="231.5" stroke="#5a5468" stroke-width="1"/>
<line x1="226.0" y1="187.4" x2="226.0" y2="232.0" stroke="#a6a69c" stroke-width="2"/>
<line x1="268.0" y1="222.5" x2="637.8" y2="222.5" stroke="#5a5468" stroke-width="1"/>
<line x1="268.5" y1="187.4" x2="268.5" y2="223.0" stroke="#5a5468" stroke-width="1"/>
<line x1="310.0" y1="213.0" x2="637.8" y2="213.0" stroke="#a6a69c" stroke-width="2"/>
<line x1="310.5" y1="187.4" x2="310.5" y2="214.0" stroke="#000" stroke-width="1"/>
<rect x="221.5" y="331.5" width="103.0" height="32.0" fill="none" stroke="#000" stroke-width="1" stroke-dasharray="12.6 1.3 2.4 1.3"/>
<path d="M223.9,347.59999999999997 C223.9,342.05 226.18,340.2 229,340.2 C231.82,340.2 234.1,342.05 234.1,347.59999999999997" fill="none" stroke="#111" stroke-width="1" />
<text x="229" y="355" font-size="6.4" text-anchor="middle" fill="#555" stroke="#555" stroke-width="0.28" >7</text>
<path d="M238.20000000000002,347.59999999999997 C238.20000000000002,342.05 240.48000000000002,340.2 243.3,340.2 C246.12,340.2 248.4,342.05 248.4,347.59999999999997" fill="none" stroke="#111" stroke-width="1" />
<text x="243.3" y="355" font-size="6.4" text-anchor="middle" fill="#555" stroke="#555" stroke-width="0.28" >6</text>
<path d="M252.20000000000002,347.59999999999997 C252.20000000000002,342.05 254.48000000000002,340.2 257.3,340.2 C260.12,340.2 262.4,342.05 262.4,347.59999999999997" fill="none" stroke="#111" stroke-width="1" />
<text x="257.3" y="355" font-size="6.4" text-anchor="middle" fill="#555" stroke="#555" stroke-width="0.28" >5</text>
<path d="M266.6,347.59999999999997 C266.6,342.05 268.88,340.2 271.7,340.2 C274.52,340.2 276.79999999999995,342.05 276.79999999999995,347.59999999999997" fill="none" stroke="#111" stroke-width="1" />
<text x="271.7" y="355" font-size="6.4" text-anchor="middle" fill="#555" stroke="#555" stroke-width="0.28" >4</text>
<path d="M280.90000000000003,347.59999999999997 C280.90000000000003,342.05 283.18,340.2 286,340.2 C288.82,340.2 291.09999999999997,342.05 291.09999999999997,347.59999999999997" fill="none" stroke="#111" stroke-width="1" />
<text x="286" y="355" font-size="6.4" text-anchor="middle" fill="#555" stroke="#555" stroke-width="0.28" >3</text>
<path d="M294.70000000000005,347.59999999999997 C294.70000000000005,342.05 296.98,340.2 299.8,340.2 C302.62,340.2 304.9,342.05 304.9,347.59999999999997" fill="none" stroke="#111" stroke-width="1" />
<text x="299.8" y="355" font-size="6.4" text-anchor="middle" fill="#555" stroke="#555" stroke-width="0.28" >2</text>
<path d="M308.3,347.59999999999997 C308.3,342.05 310.58,340.2 313.4,340.2 C316.21999999999997,340.2 318.49999999999994,342.05 318.49999999999994,347.59999999999997" fill="none" stroke="#111" stroke-width="1" />
<text x="313.4" y="355" font-size="6.4" text-anchor="middle" fill="#555" stroke="#555" stroke-width="0.28" >1</text>
<text x="272.65" y="375.6" font-size="9.1" text-anchor="middle" textLength="68.5" lengthAdjust="spacingAndGlyphs" fill="#111" stroke="#111" stroke-width="0.28" >Электропитание</text>
<text x="272.84999999999997" y="384.9" font-size="9.1" text-anchor="middle" textLength="37.5" lengthAdjust="spacingAndGlyphs" fill="#111" stroke="#111" stroke-width="0.28" >ISO 1185</text>
<rect x="363.5" y="331.5" width="103.0" height="32.0" fill="none" stroke="#000" stroke-width="1" stroke-dasharray="12.6 1.3 2.4 1.3"/>
<path d="M366.8,347.59999999999997 C366.8,342.05 369.08,340.2 371.9,340.2 C374.71999999999997,340.2 376.99999999999994,342.05 376.99999999999994,347.59999999999997" fill="none" stroke="#111" stroke-width="1" />
<text x="371.9" y="355" font-size="6.4" text-anchor="middle" fill="#555" stroke="#555" stroke-width="0.28" >7</text>
<path d="M380.90000000000003,347.59999999999997 C380.90000000000003,342.05 383.18,340.2 386,340.2 C388.82,340.2 391.09999999999997,342.05 391.09999999999997,347.59999999999997" fill="none" stroke="#111" stroke-width="1" />
<text x="386" y="355" font-size="6.4" text-anchor="middle" fill="#555" stroke="#555" stroke-width="0.28" >6</text>
<path d="M395.20000000000005,347.59999999999997 C395.20000000000005,342.05 397.48,340.2 400.3,340.2 C403.12,340.2 405.4,342.05 405.4,347.59999999999997" fill="none" stroke="#111" stroke-width="1" />
<text x="400.3" y="355" font-size="6.4" text-anchor="middle" fill="#555" stroke="#555" stroke-width="0.28" >5</text>
<path d="M409.3,347.59999999999997 C409.3,342.05 411.58,340.2 414.4,340.2 C417.21999999999997,340.2 419.49999999999994,342.05 419.49999999999994,347.59999999999997" fill="none" stroke="#111" stroke-width="1" />
<text x="414.4" y="355" font-size="6.4" text-anchor="middle" fill="#555" stroke="#555" stroke-width="0.28" >4</text>
<path d="M423.3,347.59999999999997 C423.3,342.05 425.58,340.2 428.4,340.2 C431.21999999999997,340.2 433.49999999999994,342.05 433.49999999999994,347.59999999999997" fill="none" stroke="#111" stroke-width="1" />
<text x="428.4" y="355" font-size="6.4" text-anchor="middle" fill="#555" stroke="#555" stroke-width="0.28" >3</text>
<path d="M437.40000000000003,347.59999999999997 C437.40000000000003,342.05 439.68,340.2 442.5,340.2 C445.32,340.2 447.59999999999997,342.05 447.59999999999997,347.59999999999997" fill="none" stroke="#111" stroke-width="1" />
<text x="442.5" y="355" font-size="6.4" text-anchor="middle" fill="#555" stroke="#555" stroke-width="0.28" >2</text>
<path d="M451.50000000000006,347.59999999999997 C451.50000000000006,342.05 453.78000000000003,340.2 456.6,340.2 C459.42,340.2 461.7,342.05 461.7,347.59999999999997" fill="none" stroke="#111" stroke-width="1" />
<text x="456.6" y="355" font-size="6.4" text-anchor="middle" fill="#555" stroke="#555" stroke-width="0.28" >1</text>
<text x="414.5" y="375.6" font-size="9.1" text-anchor="middle" textLength="88" lengthAdjust="spacingAndGlyphs" fill="#111" stroke="#111" stroke-width="0.28" >Электропитание ABS</text>
<text x="414.7" y="384.9" font-size="9.1" text-anchor="middle" textLength="38.5" lengthAdjust="spacingAndGlyphs" fill="#111" stroke="#111" stroke-width="0.28" >ISO 7638</text>
<line x1="313.0" y1="242.0" x2="637.8" y2="242.0" stroke="#a6a69c" stroke-width="2"/>
<line x1="313.5" y1="340.2" x2="313.5" y2="241.0" stroke="#5a5468" stroke-width="1"/>
<line x1="271.5" y1="340.2" x2="271.5" y2="258.0" stroke="#5a5468" stroke-width="1" />
<line x1="271" y1="259.0" x2="310.4" y2="259.0" stroke="#a6a69c" stroke-width="2" />
<line x1="315.6" y1="259.0" x2="375.3" y2="259.0" stroke="#a6a69c" stroke-width="2" />
<path d="M310.4,258.7 A2.6,2.6 0 0 1 315.6,258.7" fill="none" stroke="#000" stroke-width="1" />
<line x1="375.3" y1="259.5" x2="483" y2="259.5" stroke="#5a5468" stroke-width="1" />
<line x1="483" y1="259.5" x2="590.7" y2="259.5" stroke="#000" stroke-width="1" />
<line x1="590.7" y1="259.5" x2="637.8" y2="259.5" stroke="#5a5468" stroke-width="1" />
<circle cx="293" cy="286.5" r="9.5" fill="none" stroke="#111" stroke-width="1.2"/>
<line x1="286.3" y1="279.8" x2="299.7" y2="293.2" stroke="#111" stroke-width="1.2" />
<line x1="286.3" y1="293.2" x2="299.7" y2="279.8" stroke="#111" stroke-width="1.2" />
<line x1="271.2" y1="286.5" x2="283.5" y2="286.5" stroke="#000" stroke-width="1" />
<circle cx="271.5" cy="286.5" r="1" fill="#000" stroke="#000" stroke-width="0"/>
<path d="M302.5,286.5 H310.4 A2.6,2.6 0 0 1 315.6,286.5 H339" fill="none" stroke="#000" stroke-width="1" />
<line x1="338.0" y1="268.5" x2="637.8" y2="268.5" stroke="#5a5468" stroke-width="1"/>
<line x1="339.0" y1="287.0" x2="339.0" y2="268.0" stroke="#a6a69c" stroke-width="2"/>
<line x1="400.0" y1="277.5" x2="637.8" y2="277.5" stroke="#5a5468" stroke-width="1"/>
<line x1="400.5" y1="340.2" x2="400.5" y2="277.0" stroke="#5a5468" stroke-width="1"/>
<line x1="414.0" y1="287.0" x2="637.8" y2="287.0" stroke="#a6a69c" stroke-width="2"/>
<line x1="414.5" y1="340.2" x2="414.5" y2="286.0" stroke="#000" stroke-width="1"/>
<line x1="428.0" y1="296.0" x2="637.8" y2="296.0" stroke="#a6a69c" stroke-width="2"/>
<line x1="428.5" y1="340.2" x2="428.5" y2="295.0" stroke="#000" stroke-width="1"/>
<line x1="442.0" y1="305.5" x2="637.8" y2="305.5" stroke="#5a5468" stroke-width="1"/>
<line x1="442.5" y1="340.2" x2="442.5" y2="305.0" stroke="#000" stroke-width="1"/>
<line x1="456.0" y1="314.5" x2="637.8" y2="314.5" stroke="#000" stroke-width="1"/>
<line x1="456.5" y1="340.2" x2="456.5" y2="314.0" stroke="#5a5468" stroke-width="1"/>
</svg>
</body>
</html>
